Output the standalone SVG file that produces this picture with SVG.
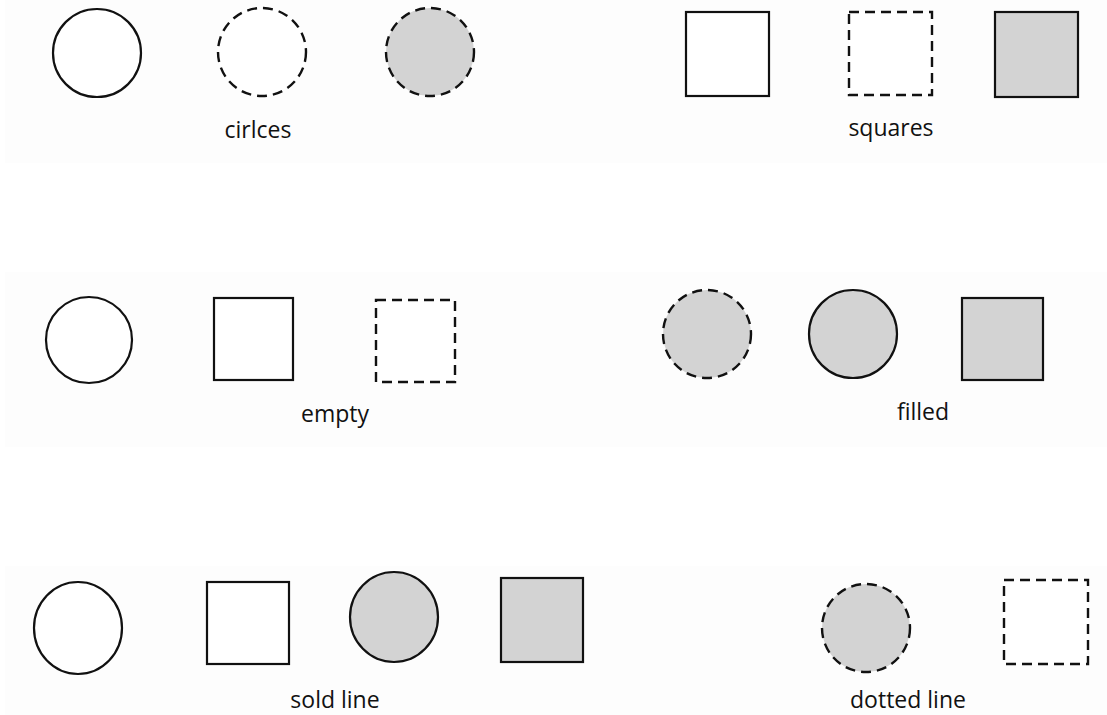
<svg xmlns="http://www.w3.org/2000/svg" width="1107" height="715" viewBox="0 0 1107 715">
<style>
.panel{fill:#fdfdfd;stroke:none}
.s{fill:#ffffff;stroke:#111;stroke-width:2.2}
.d{fill:#ffffff;stroke:#111;stroke-width:2.4;stroke-dasharray:10 6}
.sf{fill:#d3d3d3;stroke:#111;stroke-width:2.2}
.df{fill:#d3d3d3;stroke:#111;stroke-width:2.4;stroke-dasharray:10 6}
.lbl{font-family:"Open Sans","Liberation Sans",sans-serif;font-size:23px;fill:#111;text-anchor:middle}
</style>
<rect width="1107" height="715" fill="#ffffff"/>
<g id="panels">
<rect class="panel" x="5" y="0" width="1102" height="163"/>
<rect class="panel" x="5" y="272" width="1102" height="175"/>
<rect class="panel" x="5" y="566" width="1102" height="149"/>
</g>
<g id="connectors"></g>
<g id="row1">
<g id="c1"><circle class="s" cx="97" cy="53" r="44"/></g>
<g id="c2"><circle class="d" cx="262" cy="52" r="44"/></g>
<g id="c3"><circle class="df" cx="430" cy="52" r="44"/></g>
<g id="t1"><text class="lbl" x="258" y="138">cirlces</text></g>
<g id="s1"><rect class="s" x="686" y="12" width="83" height="84"/></g>
<g id="s2"><rect class="d" x="849" y="12" width="83" height="83"/></g>
<g id="s3"><rect class="sf" x="995" y="12" width="83" height="85"/></g>
<g id="t2"><text class="lbl" x="891" y="136">squares</text></g>
</g>
<g id="row2">
<g id="e1"><circle class="s" cx="89" cy="340" r="43"/></g>
<g id="e2"><rect class="s" x="214" y="298" width="79" height="82"/></g>
<g id="e3"><rect class="d" x="376" y="300" width="79" height="82"/></g>
<g id="t3"><text class="lbl" x="335" y="422">empty</text></g>
<g id="f1"><circle class="df" cx="707" cy="334" r="44"/></g>
<g id="f2"><circle class="sf" cx="853" cy="334" r="44"/></g>
<g id="f3"><rect class="sf" x="962" y="298" width="81" height="82"/></g>
<g id="t4"><text class="lbl" x="923" y="420">filled</text></g>
</g>
<g id="row3">
<g id="l1"><ellipse class="s" cx="78" cy="628" rx="44" ry="46"/></g>
<g id="l2"><rect class="s" x="207" y="582" width="82" height="82"/></g>
<g id="l3"><ellipse class="sf" cx="394" cy="617" rx="44" ry="45"/></g>
<g id="l4"><rect class="sf" x="501" y="578" width="82" height="84"/></g>
<g id="t5"><text class="lbl" x="335" y="708">sold line</text></g>
<g id="m1"><circle class="df" cx="866" cy="628" r="44"/></g>
<g id="m2"><rect class="d" x="1004" y="580" width="84" height="84"/></g>
<g id="t6"><text class="lbl" x="908" y="708">dotted line</text></g>
</g>
</svg>
